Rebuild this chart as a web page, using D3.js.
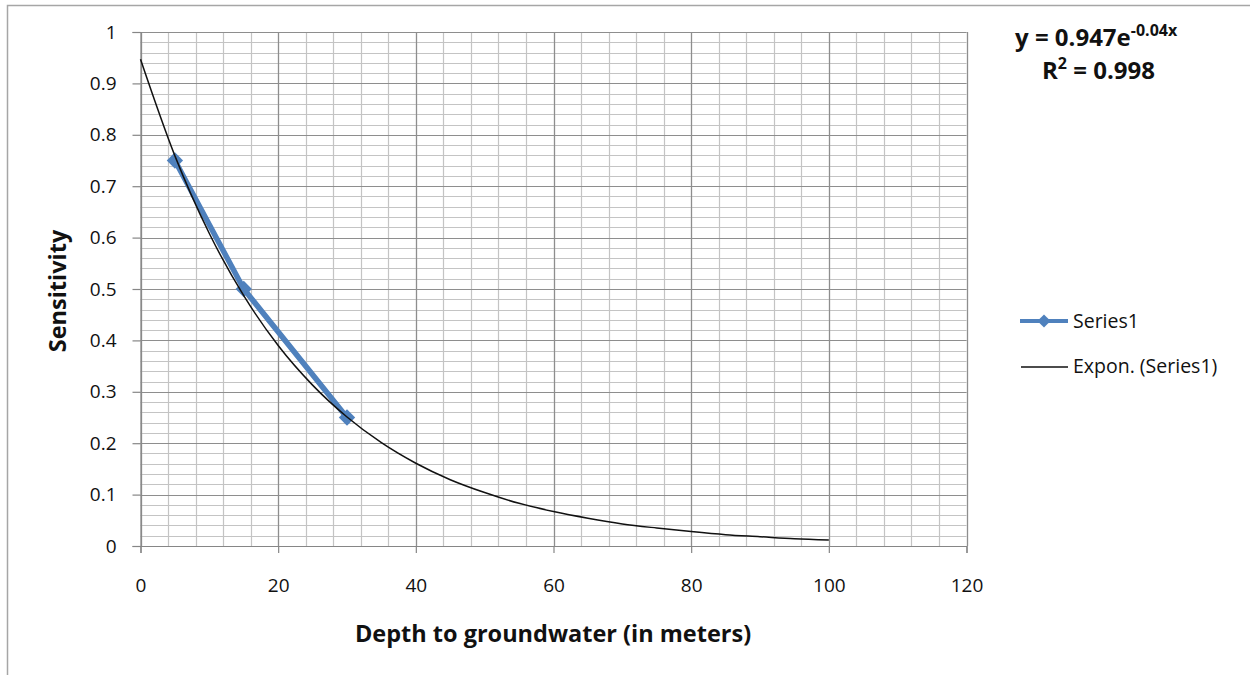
<!DOCTYPE html>
<html>
<head>
<meta charset="utf-8">
<script src="https://cdn.jsdelivr.net/npm/d3@7"></script>
<style>
  body { margin: 0; background: #fff; }
  text { font-family: "Open Sans", "DejaVu Sans", sans-serif; fill: #111; }
</style>
</head>
<body>
<div id="chart"></div>
<script>
// observed points
const depths = [5, 15, 30];
const sensitivity = [0.75, 0.5, 0.25];

// exponential trendline, values
const trendX = [0, 5, 10, 15, 20, 25, 30, 35, 40, 45, 50, 55, 60, 65, 70, 75, 80, 85, 90, 95, 100];
const trendY = [0.947, 0.759, 0.608, 0.487, 0.390, 0.313, 0.251, 0.201, 0.161, 0.129, 0.104,
                0.083, 0.067, 0.054, 0.043, 0.035, 0.028, 0.022, 0.018, 0.014, 0.0115];

const xTicks = [0, 20, 40, 60, 80, 100, 120];
const yTicks = [0, 0.1, 0.2, 0.3, 0.4, 0.5, 0.6, 0.7, 0.8, 0.9, 1];

const width = 1250, height = 675;
const svg = d3.select("#chart").append("svg")
    .attr("width", width)
    .attr("height", height);

// chart border (only top/left visible in the picture)
svg.append("rect")
    .attr("x", 7.5).attr("y", 5.5)
    .attr("width", width + 10).attr("height", height + 10)
    .attr("fill", "none")
    .attr("stroke", "#a6a6a6")
    .attr("stroke-width", 1.5);

const x = d3.scaleLinear().domain([0, 120]).range([140.5, 966.5]);
const y = d3.scaleLinear().domain([0, 1]).range([546, 32]);

// minor grid
const grid = svg.append("g");
grid.selectAll(".vminor")
    .data(d3.range(0, 121, 4))
    .enter().append("line")
    .attr("x1", d => Math.round(x(d)) + 0.5).attr("x2", d => Math.round(x(d)) + 0.5)
    .attr("y1", y(1)).attr("y2", y(0))
    .attr("stroke", "#c4c4c4").attr("stroke-width", 1.2);
grid.selectAll(".hminor")
    .data(d3.range(0, 51).map(i => i / 50))
    .enter().append("line")
    .attr("x1", x(0)).attr("x2", x(120))
    .attr("y1", d => Math.round(y(d)) + 0.5).attr("y2", d => Math.round(y(d)) + 0.5)
    .attr("stroke", "#c4c4c4").attr("stroke-width", 1.2);
// major grid
grid.selectAll(".vmajor")
    .data(xTicks)
    .enter().append("line")
    .attr("x1", d => Math.round(x(d)) + 0.5).attr("x2", d => Math.round(x(d)) + 0.5)
    .attr("y1", y(1)).attr("y2", y(0))
    .attr("stroke", "#8e8e8e").attr("stroke-width", 1.2);
grid.selectAll(".hmajor")
    .data(yTicks)
    .enter().append("line")
    .attr("x1", x(0)).attr("x2", x(120))
    .attr("y1", d => Math.round(y(d)) + 0.5).attr("y2", d => Math.round(y(d)) + 0.5)
    .attr("stroke", "#8e8e8e").attr("stroke-width", 1.2);

// axes
const xAxis = svg.append("g")
    .attr("transform", `translate(0,${y(0)})`)
    .call(d3.axisBottom(x).tickValues(xTicks).tickSize(7).tickPadding(26).tickFormat(d3.format("d")));
const yAxis = svg.append("g")
    .attr("transform", `translate(${x(0)},0)`)
    .call(d3.axisLeft(y).tickValues(yTicks).tickSize(8).tickPadding(16).tickFormat(d => d === 0 || d === 1 ? d : d.toFixed(1)));
[xAxis, yAxis].forEach(a => {
    a.selectAll("path, line").attr("stroke", "#868686").attr("stroke-width", 1.2);
    a.selectAll("text").style("font-size", "19px").style("font-family", '"Open Sans", sans-serif').attr("fill", "#111");
});

// axis titles
svg.append("text")
    .attr("x", 553).attr("y", 642)
    .attr("text-anchor", "middle")
    .style("font-size", "23.5px").style("font-weight", "bold")
    .text("Depth to groundwater (in meters)");
svg.append("text")
    .attr("transform", "translate(66,291) rotate(-90)")
    .attr("text-anchor", "middle")
    .style("font-size", "23.5px").style("font-weight", "bold")
    .text("Sensitivity");

// series line
const pts = depths.map((d, i) => [d, sensitivity[i]]);
svg.append("path")
    .datum(pts)
    .attr("fill", "none")
    .attr("stroke", "#4f81bd")
    .attr("stroke-width", 5.5)
    .attr("d", d3.line().x(d => x(d[0])).y(d => y(d[1])));

const diamond = d3.symbol().type(d3.symbolDiamond2).size(170);
svg.selectAll(".marker")
    .data(pts)
    .enter().append("path")
    .attr("transform", d => `translate(${x(d[0])},${y(d[1])})`)
    .attr("d", diamond)
    .attr("fill", "#4f81bd");

// trendline
svg.append("path")
    .datum(trendX.map((d, i) => [d, trendY[i]]))
    .attr("fill", "none")
    .attr("stroke", "#111")
    .attr("stroke-width", 1.5)
    .attr("d", d3.line().curve(d3.curveMonotoneX).x(d => x(d[0])).y(d => y(d[1])));

// equation label
const eq = svg.append("text")
    .attr("x", 1015).attr("y", 46)
    .style("font-size", "24px").style("font-weight", "bold");
eq.append("tspan").text("y = 0.947e");
eq.append("tspan").attr("dy", -10).style("font-size", "16px").text("-0.04x");

const r2 = svg.append("text")
    .attr("x", 1042).attr("y", 79)
    .style("font-size", "24px").style("font-weight", "bold");
r2.append("tspan").text("R");
r2.append("tspan").attr("dy", -10).style("font-size", "16px").text("2");
r2.append("tspan").attr("dy", 10).text(" = 0.998");

// legend
const legend = svg.append("g");
legend.append("line")
    .attr("x1", 1020).attr("x2", 1068).attr("y1", 321).attr("y2", 321)
    .attr("stroke", "#4f81bd").attr("stroke-width", 4);
legend.append("path")
    .attr("transform", "translate(1044,321)")
    .attr("d", d3.symbol().type(d3.symbolDiamond2).size(110))
    .attr("fill", "#4f81bd");
legend.append("text")
    .attr("x", 1073).attr("y", 328)
    .style("font-size", "19.5px")
    .text("Series1");
legend.append("line")
    .attr("x1", 1021).attr("x2", 1068).attr("y1", 367).attr("y2", 367)
    .attr("stroke", "#111").attr("stroke-width", 1.5);
legend.append("text")
    .attr("x", 1073).attr("y", 373)
    .style("font-size", "19.5px")
    .text("Expon. (Series1)");
</script>
</body>
</html>
